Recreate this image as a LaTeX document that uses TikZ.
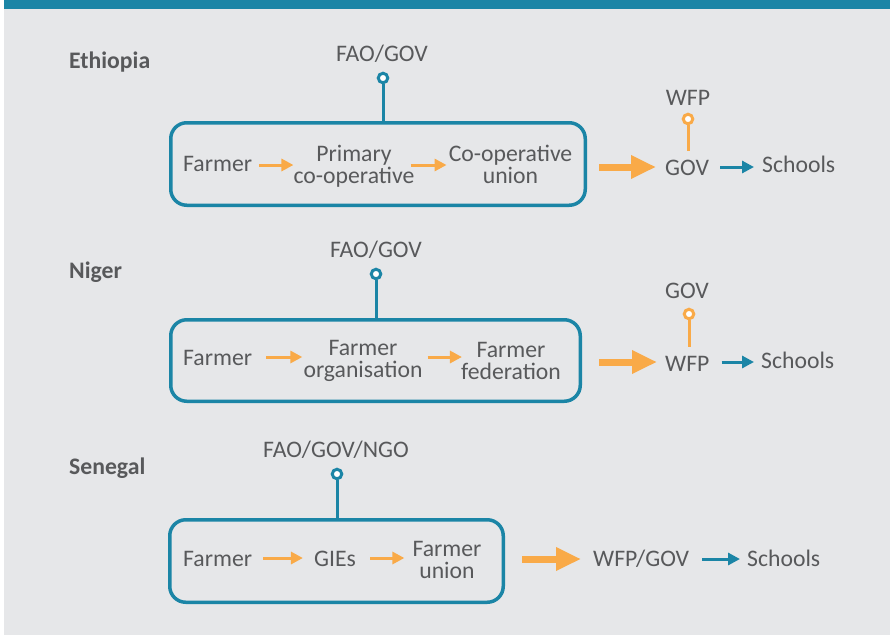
\documentclass[tikz,border=0pt]{standalone}
\usepackage{fontspec}
\setmainfont{Carlito}
\usetikzlibrary{arrows.meta}
\definecolor{brandteal}{HTML}{1B85A6}
\definecolor{brandorange}{HTML}{F9AA48}
\definecolor{inkgray}{HTML}{58595B}
\definecolor{panelgray}{HTML}{E6E7E9}
\begin{document}
\begin{tikzpicture}[x=1pt,y=-1pt,
  lbl/.style={text=inkgray, inner sep=0pt, font=\fontsize{23.7}{22}\selectfont},
  country/.style={lbl, font=\fontsize{23.7}{22}\selectfont\bfseries},
  chain/.style={draw=brandteal, line width=3.5pt, rounded corners=16pt},
  tap/.style={circle, draw=#1, fill=white, line width=3pt, minimum size=9.5pt, inner sep=0pt},
  stem/.style={draw=#1, line width=3pt},
  flow/.style={draw=brandorange, line width=3pt, -{Triangle[length=12pt,width=12pt]}},
  bigflow/.style={draw=brandorange, line width=7pt, -{Triangle[length=25pt,width=22pt]}},
  deliver/.style={draw=brandteal, line width=3pt, -{Triangle[length=12pt,width=12pt]}}
]
\useasboundingbox (0,0) rectangle (890,635);
% page background and header band
\fill[white] (0,0) rectangle (890,635);
\fill[panelgray] (3.5,9) rectangle (890,635);
\fill[brandteal] (3.5,0) rectangle (890,9);

% ---------- Ethiopia ----------
\node[country, anchor=base west] (eth) at (69,68) {Ethiopia};
\node[chain, minimum width=414.5pt, minimum height=82.5pt] (eth-box) at (378,164) {};
\node[lbl, anchor=base] (eth-src) at (382,61) {FAO/GOV};
\node[tap=brandteal] (eth-tap) at (383,78) {};
\draw[stem=brandteal] (eth-tap.south) -- (eth-tap.south |- eth-box.north);
\node[lbl, anchor=base west] (eth-f) at (183,171) {Farmer};
\node[lbl, anchor=base, align=center] (eth-p) at (354,183) {Primary\\co-operative};
\node[lbl, anchor=base, align=center] (eth-u) at (510.5,183) {Co-operative\\union};
\node[lbl, anchor=base west] (eth-gov) at (665,175) {GOV};
\node[lbl, anchor=base] (eth-wfp) at (688,105) {WFP};
\node[tap=brandorange] (eth-wtap) at (688,119) {};
\draw[stem=brandorange, shorten >=8pt] (eth-wtap.south) -- (eth-wtap.south |- eth-gov.north);
\node[lbl, anchor=base west] (eth-sch) at (762,172) {Schools};
\coordinate (eth-row) at (0,165);
\coordinate (eth-main) at (0,167);
\draw[flow] ([xshift=7pt]eth-f.east |- eth-row) -- ([xshift=0pt]eth-p.west |- eth-row);
\draw[flow] ([xshift=-4pt]eth-p.east |- eth-row) -- ([xshift=-2pt]eth-u.west |- eth-row);
\draw[bigflow] ([xshift=12pt]eth-box.east |- eth-main) -- ([xshift=-9pt]eth-gov.west |- eth-main);
\draw[deliver] ([xshift=11pt]eth-gov.east |- eth-main) -- ([xshift=-8pt]eth-sch.west |- eth-main);

% ---------- Niger ----------
\node[country, anchor=base west] (ner) at (69,278) {Niger};
\node[chain, minimum width=409.5pt, minimum height=81.5pt] (ner-box) at (375.5,360.5) {};
\node[lbl, anchor=base] (ner-src) at (376,257) {FAO/GOV};
\node[tap=brandteal] (ner-tap) at (376,274) {};
\draw[stem=brandteal] (ner-tap.south) -- (ner-tap.south |- ner-box.north);
\node[lbl, anchor=base west] (ner-f) at (183,365) {Farmer};
\node[lbl, anchor=base, align=center] (ner-o) at (363,377) {Farmer\\organisation};
\node[lbl, anchor=base, align=center] (ner-d) at (511,379) {Farmer\\federation};
\node[lbl, anchor=base west] (ner-wfp) at (665,371) {WFP};
\node[lbl, anchor=base] (ner-gov) at (687,298) {GOV};
\node[tap=brandorange] (ner-gtap) at (689,314) {};
\draw[stem=brandorange, shorten >=9pt] (ner-gtap.south) -- (ner-gtap.south |- ner-wfp.north);
\node[lbl, anchor=base west] (ner-sch) at (761,368) {Schools};
\coordinate (ner-row) at (0,357);
\coordinate (ner-main) at (0,362);
\draw[flow] ([xshift=14pt]ner-f.east |- ner-row) -- ([xshift=-1pt]ner-o.west |- ner-row);
\draw[flow] ([xshift=5pt]ner-o.east |- ner-row) -- ([xshift=1pt]ner-d.west |- ner-row);
\draw[bigflow] ([xshift=17pt]ner-box.east |- ner-main) -- ([xshift=-8pt]ner-wfp.west |- ner-main);
\draw[deliver] ([xshift=12pt]ner-wfp.east |- ner-main) -- ([xshift=-7pt]ner-sch.west |- ner-main);

% ---------- Senegal ----------
\node[country, anchor=base west] (sen) at (69,474) {Senegal};
\node[chain, minimum width=333.5pt, minimum height=82.5pt] (sen-box) at (336.5,561) {};
\node[lbl, anchor=base] (sen-src) at (336,457) {FAO/GOV/NGO};
\node[tap=brandteal] (sen-tap) at (337,474) {};
\draw[stem=brandteal] (sen-tap.south) -- (sen-tap.south |- sen-box.north);
\node[lbl, anchor=base west] (sen-f) at (183,566) {Farmer};
\node[lbl, anchor=base] (sen-g) at (335,566) {GIEs};
\node[lbl, anchor=base, align=center] (sen-u) at (447,578) {Farmer\\union};
\node[lbl, anchor=base west] (sen-wg) at (593,566) {WFP/GOV};
\node[lbl, anchor=base west] (sen-sch) at (747,566) {Schools};
\coordinate (sen-row) at (0,558);
\coordinate (sen-main) at (0,559);
\draw[flow] ([xshift=11pt]sen-f.east |- sen-row) -- ([xshift=-11pt]sen-g.west |- sen-row);
\draw[flow] ([xshift=14pt]sen-g.east |- sen-row) -- ([xshift=-8pt]sen-u.west |- sen-row);
\draw[bigflow] ([xshift=17pt]sen-box.east |- sen-main) -- ([xshift=-12pt]sen-wg.west |- sen-main);
\draw[deliver] ([xshift=13pt]sen-wg.east |- sen-main) -- ([xshift=-7pt]sen-sch.west |- sen-main);
\end{tikzpicture}
\end{document}
